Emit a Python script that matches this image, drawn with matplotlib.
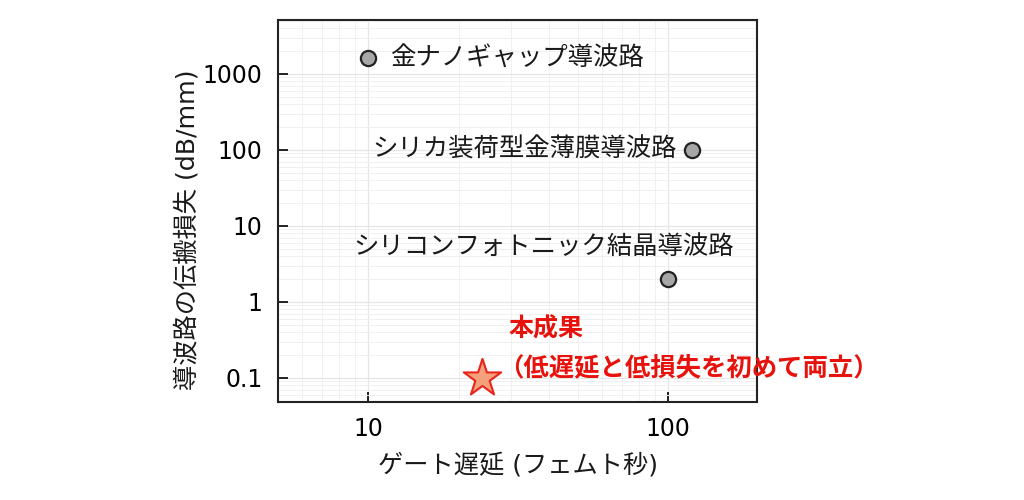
import matplotlib.pyplot as plt
from matplotlib.ticker import LogLocator, FixedLocator, NullFormatter

plt.rcParams['font.family'] = ['DejaVu Sans', 'Noto Sans CJK JP']

# data
names = ['金ナノギャップ導波路', 'シリカ装荷型金薄膜導波路', 'シリコンフォトニック結晶導波路']
delay_fs = [10, 120, 100]
loss_db_mm = [1600, 100, 2]
this_work_delay = [24]
this_work_loss = [0.1]
xticks = [10, 100]
yticks = [0.1, 1, 10, 100, 1000]
ytick_labels = ['0.1', '1', '10', '100', '1000']

fig = plt.figure(figsize=(10.24, 5), dpi=100)
ax = fig.add_axes([0.2715, 0.196, 0.468, 0.764])
ax.set_xscale('log')
ax.set_yscale('log')
ax.set_xlim(5, 198)
ax.set_ylim(0.048, 5100)

# faint major + minor grid
ax.grid(True, which='major', color='#e6e6e6', lw=0.9)
ax.grid(True, which='minor', color='#f0f0f0', lw=0.7)
ax.set_axisbelow(True)

ax.xaxis.set_major_locator(FixedLocator(xticks))
ax.set_xticklabels(['10', '100'])
ax.yaxis.set_major_locator(FixedLocator(yticks))
ax.set_yticklabels(ytick_labels)
ax.xaxis.set_minor_locator(LogLocator(base=10, subs=range(2, 10)))
ax.yaxis.set_minor_locator(LogLocator(base=10, subs=range(2, 10)))
ax.xaxis.set_minor_formatter(NullFormatter())
ax.yaxis.set_minor_formatter(NullFormatter())
ax.tick_params(which='major', direction='in', length=7, width=1.2, labelsize=17,
               colors='black', pad=11)
ax.tick_params(which='minor', length=0)
for s in ax.spines.values():
    s.set_linewidth(1.5)
    s.set_color('#222222')

ax.scatter(delay_fs, loss_db_mm, s=120, c='#a6a6a6', edgecolors='#222222',
           linewidths=1.6, zorder=3)
ax.scatter(this_work_delay, this_work_loss, s=800, marker='*', c='#f4a07a',
           edgecolors='#e8261c', linewidths=1.5, zorder=3)

offsets = [(16, 0), (-11, 0), (-90, 23)]
aligns = ['left', 'right', 'center']
for name, x, y, off, ha in zip(names, delay_fs, loss_db_mm, offsets, aligns):
    ax.annotate(name, (x, y), xytext=off, textcoords='offset points',
                ha=ha, va='center', fontsize=18.3, color='#1a1a1a',
                family='Noto Sans CJK JP')

ax.annotate('本成果', (this_work_delay[0], this_work_loss[0]), xytext=(19, 35),
            textcoords='offset points', ha='left', va='center', fontsize=18,
            fontweight='bold', color='#e8120c', annotation_clip=False,
            family='Noto Sans CJK JP')
ax.annotate('（低遅延と低損失を初めて両立）', (this_work_delay[0], this_work_loss[0]),
            xytext=(11, 7), textcoords='offset points', ha='left', va='center',
            fontsize=18.3, fontweight='bold', color='#e8120c', annotation_clip=False,
            family='Noto Sans CJK JP')

ax.set_xlabel('ゲート遅延 (フェムト秒)', fontsize=18.2, labelpad=8, color='#1a1a1a')
ax.set_ylabel('導波路の伝搬損失 (dB/mm)', fontsize=18.2, color='#1a1a1a')
ax.yaxis.set_label_coords(-0.163, 0.45)

fig.savefig('out.png', dpi=100, facecolor='white')
